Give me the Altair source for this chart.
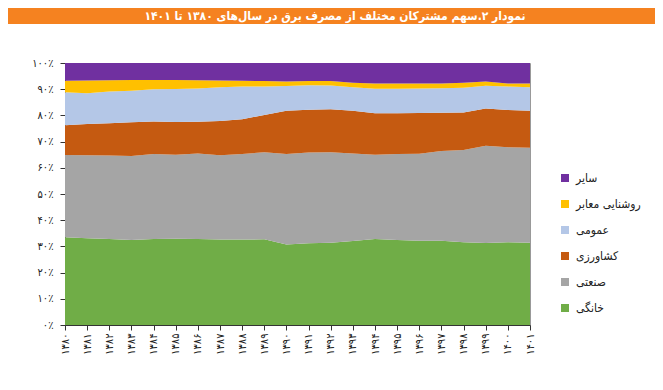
import altair as alt
import pandas as pd

title_text = "نمودار ۲.سهم مشترکان مختلف از مصرف برق در سال‌های ۱۳۸۰ تا ۱۴۰۱"

years = ["۱۳۸۰", "۱۳۸۱", "۱۳۸۲", "۱۳۸۳", "۱۳۸۴", "۱۳۸۵", "۱۳۸۶", "۱۳۸۷",
         "۱۳۸۸", "۱۳۸۹", "۱۳۹۰", "۱۳۹۱", "۱۳۹۲", "۱۳۹۳", "۱۳۹۴", "۱۳۹۵",
         "۱۳۹۶", "۱۳۹۷", "۱۳۹۸", "۱۳۹۹", "۱۴۰۰", "۱۴۰۱"]

y_tick_labels = ["۰٪", "۱۰٪", "۲۰٪", "۳۰٪", "۴۰٪", "۵۰٪", "۶۰٪", "۷۰٪", "۸۰٪", "۹۰٪", "۱۰۰٪"]

series_names = ["خانگی", "صنعتی", "کشاورزی", "عمومی", "روشنایی معابر", "سایر"]
series_colors = ["#70AD47", "#A5A5A5", "#C55A11", "#B4C7E7", "#FFC000", "#7030A0"]

residential = [33.5, 33.1, 32.8, 32.4, 32.8, 32.9, 32.8, 32.6, 32.6, 32.7, 30.7,
               31.2, 31.4, 32.1, 32.8, 32.4, 32.2, 32.2, 31.6, 31.3, 31.6, 31.4]
industrial = [31.4, 31.7, 31.9, 32.1, 32.5, 32.1, 32.7, 32.2, 32.7, 33.2, 34.6,
              34.6, 34.5, 33.4, 32.2, 32.9, 33.2, 34.2, 35.2, 37.1, 36.2, 36.3]
agriculture = [11.3, 11.9, 12.3, 12.9, 12.4, 12.5, 12.1, 13.1, 13.2, 14.3, 16.5,
               16.4, 16.4, 16.3, 15.8, 15.5, 15.5, 14.6, 14.3, 14.2, 14.3, 14.1]
public = [12.6, 11.8, 12.1, 12.0, 12.3, 12.6, 12.7, 12.8, 12.5, 10.8, 9.4,
          9.3, 9.1, 8.9, 9.4, 9.4, 9.4, 9.4, 9.5, 8.7, 8.9, 8.9]
lighting = [4.4, 4.8, 4.3, 4.1, 3.5, 3.4, 3.1, 2.6, 2.2, 2.1, 1.7,
            1.6, 1.7, 1.8, 2.0, 2.0, 1.9, 1.8, 1.9, 1.6, 1.2, 1.5]
other = [6.8, 6.7, 6.6, 6.5, 6.5, 6.5, 6.6, 6.7, 6.8, 6.9, 7.1,
         6.9, 6.9, 7.5, 7.8, 7.8, 7.8, 7.8, 7.5, 7.1, 7.8, 7.8]

all_series = [residential, industrial, agriculture, public, lighting, other]

rows = []
for rank, (name, vals) in enumerate(zip(series_names, all_series)):
    for y, v in zip(years, vals):
        rows.append({"year": y, "name": name, "value": v, "rank": rank})
df = pd.DataFrame(rows)

FONT = "DejaVu Sans Condensed"
W, H = 465, 262
PAD_L, PAD_T, PAD_R, PAD_B = 57, 55, 125, 57

legend_order = list(reversed(series_names))
legend_colors = list(reversed(series_colors))

label_expr = "[" + ",".join("'" + s + "'" for s in y_tick_labels) + "][round(datum.value/10)]"

area = alt.Chart(df).mark_area(opacity=1).encode(
    x=alt.X("year:O", sort=years, scale=alt.Scale(type="point", padding=0),
            axis=alt.Axis(title=None, labelAngle=270, labelFont=FONT, labelFontSize=11,
                          labelColor="#222", tickSize=5, tickColor="#333",
                          domainColor="#333", labelPadding=3)),
    y=alt.Y("value:Q", stack=True, scale=alt.Scale(domain=[0, 100], nice=False),
            axis=alt.Axis(title=None, values=list(range(0, 101, 10)), labelExpr=label_expr,
                          labelFont=FONT, labelFontSize=11, labelColor="#222",
                          tickSize=5, tickColor="#333", domainColor="#333",
                          labelPadding=7, grid=False)),
    color=alt.Color("name:N", scale=alt.Scale(domain=legend_order, range=legend_colors),
                    legend=alt.Legend(title=None, orient="none", legendX=494, legendY=109,
                                      symbolType="square", symbolSize=64, symbolStrokeWidth=0,
                                      labelFont=FONT, labelFontSize=12, labelColor="#222",
                                      rowPadding=14, labelOffset=5)),
    order=alt.Order("rank:Q"),
)

bar = alt.Chart(pd.DataFrame({"t": [title_text]})).mark_rect(color="#F58220").encode(
    x=alt.value(-PAD_L), x2=alt.value(W + PAD_R),
    y=alt.value(-PAD_T), y2=alt.value(-PAD_T + 16),
)

title = alt.Chart(pd.DataFrame({"t": [title_text]})).mark_text(
    color="white", font=FONT, fontSize=12, fontWeight="bold", align="center", baseline="middle"
).encode(
    text="t:N",
    x=alt.value(270), y=alt.value(-PAD_T + 8),
)

chart = alt.layer(area, bar, title).properties(
    width=W, height=H,
    autosize=alt.AutoSizeParams(type="none"),
    padding={"left": PAD_L, "top": PAD_T, "right": PAD_R, "bottom": PAD_B},
    background="white",
).configure_view(stroke="#999", strokeWidth=1)

chart.save("out.html", embed_options={"renderer": "svg", "actions": False})
